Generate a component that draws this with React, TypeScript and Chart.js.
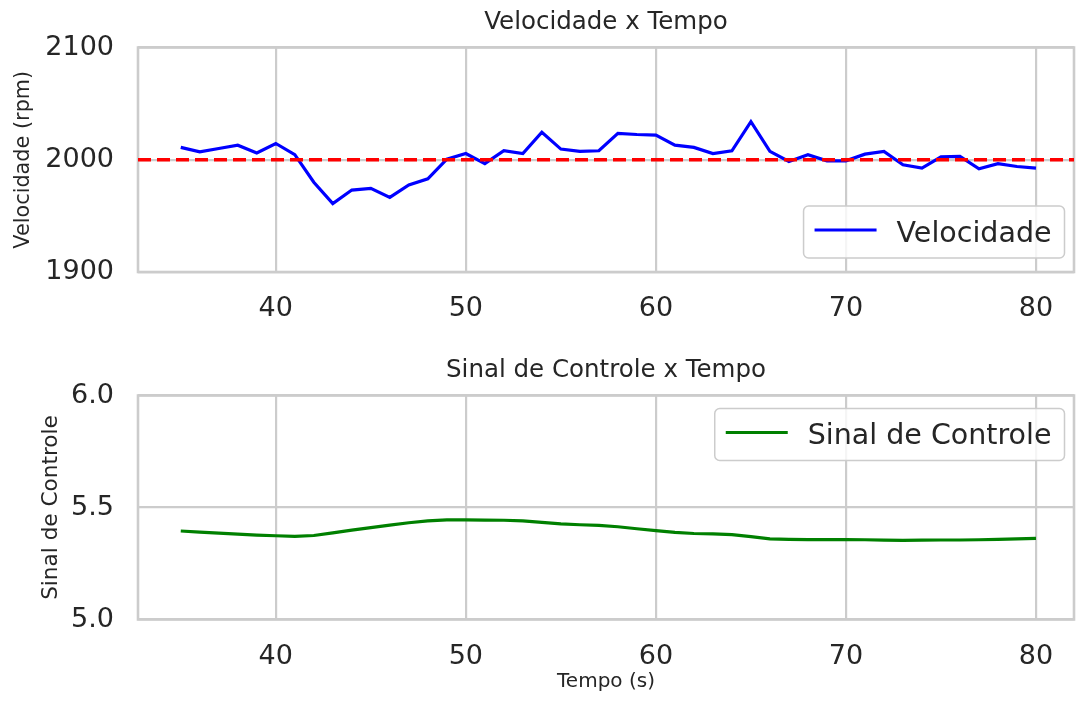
import React, { useEffect, useRef } from "react";
import { Chart, registerables } from "chart.js";

Chart.register(...registerables);

// ---------- data ----------
const tempo = [
  35, 36, 37, 38, 39, 40, 41, 42, 43, 44, 45, 46, 47, 48, 49, 50, 51, 52, 53, 54, 55, 56, 57,
  58, 59, 60, 61, 62, 63, 64, 65, 66, 67, 68, 69, 70, 71, 72, 73, 74, 75, 76, 77, 78, 79, 80,
];
const velocidade = [
  2011, 2007, 2010, 2013, 2006, 2014.5, 2004.5, 1980, 1961, 1973, 1974.5, 1966.5, 1977.5, 1983,
  2000.5, 2005.5, 1996.5, 2008, 2005.5, 2024.5, 2009.5, 2007.5, 2008, 2023.5, 2022.5, 2022,
  2013, 2011, 2005.5, 2008, 2034, 2007.5, 1998.5, 2004.5, 1999, 1999, 2005, 2007.5, 1995.5,
  1992.5, 2002.5, 2003, 1992, 1996.5, 1994, 1992.5,
];
const setpoint = 2000;
const sinalControle = [
  5.395, 5.39, 5.386, 5.381, 5.377, 5.374, 5.371, 5.375, 5.387, 5.399, 5.41, 5.421, 5.432,
  5.44, 5.445, 5.445, 5.444, 5.443, 5.44, 5.434, 5.427, 5.423, 5.42, 5.414, 5.405, 5.397,
  5.389, 5.384, 5.382, 5.379, 5.37, 5.36, 5.358, 5.357, 5.357, 5.357, 5.356, 5.354, 5.353,
  5.354, 5.355, 5.355, 5.356, 5.358, 5.36, 5.362,
];
const xTicks = [40, 50, 60, 70, 80];
const xRange = [32.75, 82];
const velTicks = [1900, 2000, 2100];
const sinalTicks = [5.0, 5.5, 6.0];

const FONT = "'DejaVu Sans'";
const TEXT = "#262626";
const GRID = "#cccccc";

Chart.defaults.font.family = FONT;
Chart.defaults.color = TEXT;

const spinePlugin = {
  id: "spines",
  beforeDatasetsDraw(chart: any) {
    const { ctx, chartArea: a } = chart;
    ctx.save();
    ctx.strokeStyle = GRID;
    ctx.lineWidth = 2.6;
    ctx.strokeRect(a.left, a.top, a.right - a.left, a.bottom - a.top);
    ctx.restore();
  },
};

const boxLegend = {
  id: "boxLegend",
  afterDatasetsDraw(chart: any, _args: any, opts: any) {
    const { ctx, chartArea: a } = chart;
    const ds = chart.data.datasets[opts.datasetIndex];
    ctx.save();
    ctx.font = `28.5px ${FONT}`;
    const tw = ctx.measureText(ds.label).width;
    const padL = 11, handle = 62, gap = 20, padR = 13, h = 52;
    const w = padL + handle + gap + tw + padR;
    const x = a.right - 9.5 - w;
    const y = opts.anchor === "bottom" ? a.bottom - 14 - h : a.top + 13;
    ctx.beginPath();
    ctx.roundRect(x, y, w, h, 5);
    ctx.fillStyle = "rgba(255,255,255,0.8)";
    ctx.fill();
    ctx.strokeStyle = GRID;
    ctx.lineWidth = 1.5;
    ctx.stroke();
    const cy = y + h / 2;
    ctx.beginPath();
    ctx.moveTo(x + padL, cy - 2);
    ctx.lineTo(x + padL + handle, cy - 2);
    ctx.strokeStyle = ds.borderColor;
    ctx.lineWidth = ds.borderWidth;
    ctx.stroke();
    ctx.fillStyle = TEXT;
    ctx.textBaseline = "alphabetic";
    ctx.textAlign = "left";
    ctx.fillText(ds.label, x + padL + handle + gap, cy + 9.5);
    ctx.restore();
  },
};

function pts(ys: number[]) {
  return tempo.map((t, i) => ({ x: t, y: ys[i] }));
}

function makeConfig(opts: {
  title: string;
  datasets: any[];
  yMin: number;
  yMax: number;
  yTicks: number[];
  yFmt: (v: number) => string;
  yTitle: string;
  yTitleSize: number;
  yTitlePad: number;
  xHeight: number;
  xTitle?: string;
  legendIndex: number;
  legendAnchor: string;
}): any {
  return {
    type: "line",
    data: { datasets: opts.datasets },
    options: {
      responsive: false,
      animation: false,
      layout: { padding: { left: 0, right: 3, top: 0, bottom: 0 } },
      plugins: {
        legend: { display: false },
        tooltip: { enabled: false },
        title: {
          display: true,
          fullSize: false,
          text: opts.title,
          color: TEXT,
          font: { size: 24.5, weight: "normal", family: FONT },
          padding: { top: 8.3, bottom: 9.8 },
        },
        boxLegend: { datasetIndex: opts.legendIndex, anchor: opts.legendAnchor },
      },
      scales: {
        x: {
          type: "linear",
          min: xRange[0],
          max: xRange[1],
          afterBuildTicks: (s: any) => {
            s.ticks = xTicks.map((v) => ({ value: v }));
          },
          afterFit: (s: any) => {
            s.height = opts.xHeight;
          },
          ticks: {
            color: TEXT,
            font: { size: 27, family: FONT },
            padding: 21,
            maxRotation: 0,
            callback: (v: any) => String(v),
          },
          grid: { color: GRID, lineWidth: 2.2, drawTicks: false },
          border: { display: false },
          title: opts.xTitle
            ? {
                display: true,
                text: opts.xTitle,
                color: TEXT,
                font: { size: 20, family: FONT },
                padding: { top: 0, bottom: 8 },
              }
            : { display: false },
        },
        y: {
          type: "linear",
          min: opts.yMin,
          max: opts.yMax,
          afterBuildTicks: (s: any) => {
            s.ticks = opts.yTicks.map((v) => ({ value: v }));
          },
          afterFit: (s: any) => {
            s.width = 138;
          },
          ticks: {
            color: TEXT,
            font: { size: 27, family: FONT },
            padding: 24,
            callback: (v: any) => opts.yFmt(Number(v)),
          },
          grid: { color: GRID, lineWidth: 2.2, drawTicks: false },
          border: { display: false },
          title: {
            display: true,
            text: opts.yTitle,
            color: TEXT,
            font: { size: opts.yTitleSize, family: FONT },
            padding: { top: opts.yTitlePad, bottom: 0 },
          },
        },
      },
      elements: { point: { radius: 0 } },
    },
    plugins: [spinePlugin, boxLegend],
  };
}

export default function App() {
  const topRef = useRef<HTMLCanvasElement>(null);
  const botRef = useRef<HTMLCanvasElement>(null);

  useEffect(() => {
    const topCfg = makeConfig({
      title: "Velocidade x Tempo",
      datasets: [
        {
          label: "Setpoint",
          data: [
            { x: xRange[0], y: setpoint },
            { x: xRange[1], y: setpoint },
          ],
          borderColor: "#ff0000",
          borderWidth: 3.3,
          borderDash: [13, 6],
          tension: 0,
          order: 0,
        },
        {
          label: "Velocidade",
          data: pts(velocidade),
          borderColor: "#0000ff",
          borderWidth: 3.2,
          tension: 0,
          order: 1,
        },
      ],
      yMin: 1900,
      yMax: 2100,
      yTicks: velTicks,
      yFmt: (v) => String(v),
      yTitle: "Velocidade (rpm)",
      yTitleSize: 20.8,
      yTitlePad: 11.5,
      xHeight: 76,
      legendIndex: 1,
      legendAnchor: "bottom",
    });
    const botCfg = makeConfig({
      title: "Sinal de Controle x Tempo",
      datasets: [
        {
          label: "Sinal de Controle",
          data: pts(sinalControle),
          borderColor: "#008000",
          borderWidth: 3.2,
          tension: 0,
        },
      ],
      yMin: 5.0,
      yMax: 6.0,
      yTicks: sinalTicks,
      yFmt: (v) => v.toFixed(1),
      yTitle: "Sinal de Controle",
      yTitleSize: 21.6,
      yTitlePad: 38.8,
      xHeight: 82.5,
      xTitle: "Tempo (s)",
      legendIndex: 0,
      legendAnchor: "top",
    });
    const c1 = new Chart(topRef.current as HTMLCanvasElement, topCfg);
    const c2 = new Chart(botRef.current as HTMLCanvasElement, botCfg);
    return () => {
      c1.destroy();
      c2.destroy();
    };
  }, []);

  return (
    <div
      style={{
        position: "fixed",
        left: 0,
        top: 0,
        width: 1077,
        height: 702,
        background: "#ffffff",
      }}
    >
      <canvas
        ref={topRef}
        width={1077}
        height={348}
        style={{ position: "absolute", left: 0, top: 0, width: 1077, height: 348 }}
      />
      <canvas
        ref={botRef}
        width={1077}
        height={354}
        style={{ position: "absolute", left: 0, top: 348, width: 1077, height: 354 }}
      />
    </div>
  );
}
